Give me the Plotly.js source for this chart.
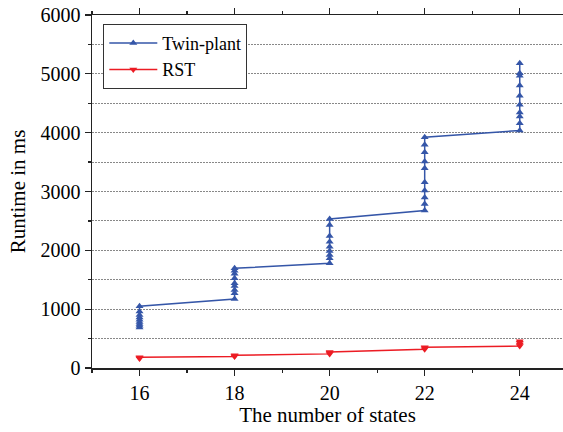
<!DOCTYPE html>
<html>
<head>
<meta charset="utf-8">
<script src="https://cdn.plot.ly/plotly-3.0.1.min.js"></script>
<style>html,body{margin:0;padding:0;background:#fff;}#chart{width:563px;height:432px;}</style>
</head>
<body>
<div id="chart"></div>
<script>
// Number of states (x categories)
const states = [16, 18, 20, 22, 24];

// Twin-plant runtimes (ms) at each number of states
const twin16 = [690, 720, 750, 780, 820, 860, 900, 960, 1050];
const twin18 = [1173, 1270, 1326, 1395, 1440, 1526, 1600, 1655, 1695];
const twin20 = [1781, 1866, 1922, 1990, 2063, 2148, 2245, 2432, 2534];
const twin22 = [2675, 2789, 2896, 3015, 3158, 3396, 3508, 3668, 3793, 3923];
const twin24 = [4036, 4162, 4274, 4342, 4473, 4626, 4801, 4966, 5012, 5182];

// RST runtimes (ms) at each number of states
const rst16 = [160, 172, 182];
const rst18 = [195, 205, 215];
const rst20 = [240, 258, 272];
const rst22 = [320, 338, 352];
const rst24 = [372, 400, 430, 455];

const xTickVals = [16, 18, 20, 22, 24];
const xTickText = ['16', '18', '20', '22', '24'];
const yTickVals = [0, 1000, 2000, 3000, 4000, 5000, 6000];

function flatten(groups) {
  const xs = [], ys = [];
  groups.forEach((g, i) => g.forEach(v => { xs.push(states[i]); ys.push(v); }));
  return {xs, ys};
}
const tw = flatten([twin16, twin18, twin20, twin22, twin24]);
const rs = flatten([rst16, rst18, rst20, rst22, rst24]);

const serif = 'Liberation Serif';

const traces = [
  {
    x: tw.xs, y: tw.ys, name: 'Twin-plant', type: 'scatter', mode: 'lines+markers',
    line: {color: '#3556a8', width: 1.5},
    marker: {symbol: 'triangle-up', size: 7, color: '#3556a8'}
  },
  {
    x: rs.xs, y: rs.ys, name: 'RST', type: 'scatter', mode: 'lines+markers',
    line: {color: '#ec1c24', width: 1.5},
    marker: {symbol: 'triangle-down', size: 7, color: '#ec1c24'}
  }
];

const layout = {
  width: 563, height: 432,
  margin: {l: 92, r: 0, t: 15, b: 64},
  paper_bgcolor: '#fff', plot_bgcolor: '#fff',
  font: {family: serif, color: '#000', size: 19},
  showlegend: true,
  legend: {
    x: 0.024, y: 0.975, xanchor: 'left', yanchor: 'top',
    bordercolor: '#333', borderwidth: 1, bgcolor: '#fff',
    font: {family: serif, size: 18, color: '#000'},
    itemwidth: 48
  },
  xaxis: {
    range: [15, 24.91],
    tickvals: xTickVals, ticktext: xTickText,
    ticks: 'outside', ticklen: 6, tickwidth: 1.2, tickcolor: '#222',
    showline: true, linecolor: '#222', linewidth: 1.5, mirror: 'ticks',
    showgrid: false, zeroline: false,
    tickfont: {family: serif, size: 20},
    minor: {dtick: 1, tick0: 15, ticks: 'outside', ticklen: 3, tickcolor: '#222', showgrid: false},
    title: {text: 'The number of states', font: {family: serif, size: 21}, standoff: 4}
  },
  yaxis: {
    range: [0, 6000],
    tickvals: yTickVals,
    ticks: 'outside', ticklen: 6, tickwidth: 1.2, tickcolor: '#222',
    showline: true, linecolor: '#222', linewidth: 1.5, mirror: 'ticks',
    showgrid: false, zeroline: false,
    tickfont: {family: serif, size: 20},
    minor: {dtick: 500, tick0: 0, ticks: 'outside', ticklen: 3, tickcolor: '#222',
            showgrid: true, gridcolor: '#888', griddash: '1.5px,1.5px', gridwidth: 1},
    title: {text: 'Runtime in ms', font: {family: serif, size: 21}, standoff: 9}
  }
};

Plotly.newPlot('chart', traces, layout, {staticPlot: true, displayModeBar: false});
</script>
</body>
</html>
